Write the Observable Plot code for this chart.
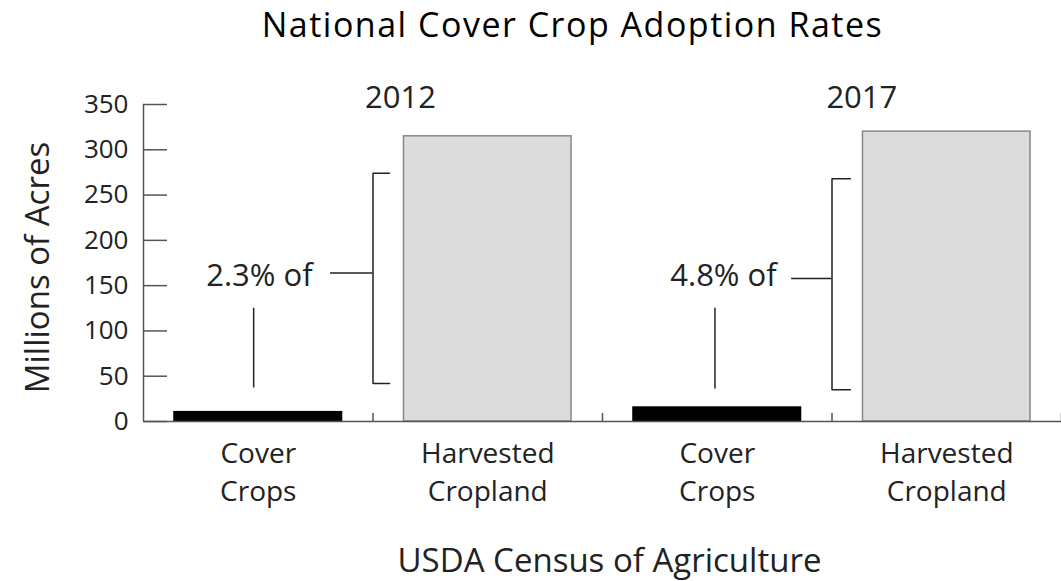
<!DOCTYPE html>
<html>
<head>
<meta charset="utf-8">
<script src="https://cdn.jsdelivr.net/npm/d3@7"></script>
<script src="https://cdn.jsdelivr.net/npm/@observablehq/plot@0.6"></script>
<style>
  html, body { margin: 0; padding: 0; background: #fff; }
  #chart svg { display: block; }
</style>
</head>
<body>
<div id="chart"></div>
<script>
// ---- data ----
const categories = ["Cover\nCrops", "Harvested\nCropland", "Cover\nCrops", "Harvested\nCropland"];
const years = [2012, 2012, 2017, 2017];
const kinds = ["cover", "harvested", "cover", "harvested"];
const acres = [10.3, 314.9, 15.4, 320.0];          // millions of acres
const yTicks = [0, 50, 100, 150, 200, 250, 300, 350];
const yearLabels = ["2012", "2017"];
const shareLabels = ["2.3% of", "4.8% of"];

// ---- derived tables ----
const bars = categories.map((c, i) => ({i, label: c, year: years[i], kind: kinds[i], value: acres[i]}));
const half = 0.365; // half bar width in band units

// annotation anchors (in data units: x = band index, y = millions of acres)
const yearAnno = [{x: 1.12, y: 357, t: yearLabels[0]}, {x: 3.13, y: 357, t: yearLabels[1]}];
const shareAnno = [{x: 0.505, y: 161, t: shareLabels[0]}, {x: 2.527, y: 161, t: shareLabels[1]}];
const pointers = [{x: 0.48, y1: 37, y2: 125}, {x: 2.49, y1: 36, y2: 125}];
const connectors = [{y: 164, x1: 0.815, x2: 1.0}, {y: 158, x1: 2.824, x2: 3.0}];
const brackets = [
  {id: 0, x: 1.072, y: 274}, {id: 0, x: 1.0, y: 274}, {id: 0, x: 1.0, y: 42}, {id: 0, x: 1.072, y: 42},
  {id: 1, x: 3.08, y: 268}, {id: 1, x: 3.0, y: 268}, {id: 1, x: 3.0, y: 35}, {id: 1, x: 3.08, y: 35}
];

const ink = "#222";
const axisInk = "#555";
const font = "'Open Sans', sans-serif";

const chart = Plot.plot({
  width: 1061,
  height: 581,
  marginLeft: 143,
  marginRight: 0,
  marginTop: 104,
  marginBottom: 160,
  style: {fontFamily: font, color: ink, background: "#fff"},
  x: {type: "linear", domain: [0, 4], axis: null},
  y: {domain: [0, 350], axis: null},
  marks: [
    // bars
    Plot.rectY(bars, {
      x1: d => d.i + 0.5 - half, x2: d => d.i + 0.5 + half, y: "value",
      fill: d => d.kind === "cover" ? "#000" : "#dcdcdc",
      stroke: d => d.kind === "cover" ? "#000" : "#888", strokeWidth: 1.5
    }),
    // baseline and y axis line
    Plot.ruleY([0], {stroke: axisInk, strokeWidth: 1.5}),
    Plot.ruleX([0], {y1: 0, y2: 350, stroke: axisInk, strokeWidth: 1.5}),
    // y tick labels and inward tick marks
    Plot.axisY({ticks: yTicks, tickSize: 0, tickPadding: 15, fontSize: 26, fill: ink, label: null}),
    Plot.axisY({ticks: yTicks, tickSize: -24, tickFormat: () => "", stroke: axisInk, strokeWidth: 1.5, label: null}),
    // small inward ticks at band boundaries
    Plot.axisX({ticks: [1, 2, 3, 4], tickSize: -8, tickFormat: () => "", stroke: axisInk, strokeWidth: 1.5, label: null}),
    // category labels
    Plot.text(bars, {x: d => d.i + 0.5, y: 0, text: "label", dy: 14, lineAnchor: "top", lineHeight: 1.36, fontSize: 28, fill: ink}),
    // annotations
    Plot.text(yearAnno, {x: "x", y: "y", text: "t", fontSize: 31, fill: ink}),
    Plot.text(shareAnno, {x: "x", y: "y", text: "t", fontSize: 31, fill: ink}),
    Plot.ruleX(pointers, {x: "x", y1: "y1", y2: "y2", stroke: ink, strokeWidth: 1.5}),
    Plot.ruleY(connectors, {y: "y", x1: "x1", x2: "x2", stroke: ink, strokeWidth: 1.5}),
    Plot.line(brackets, {x: "x", y: "y", z: "id", stroke: ink, strokeWidth: 1.5, curve: "linear"}),
    // y-axis title
    Plot.text(["Millions of Acres"], {frameAnchor: "left", textAnchor: "middle", lineAnchor: "middle", dx: -105.5, dy: 4.5, rotate: -90, fontSize: 33, fill: ink}),
    // title and caption
    Plot.text(["National Cover Crop Adoption Rates"], {frameAnchor: "top", lineAnchor: "middle", dy: -78, dx: -30, fontSize: 34, fill: "#000", className: "title"}),
    Plot.text(["USDA Census of Agriculture"], {frameAnchor: "bottom", lineAnchor: "middle", dy: 139.5, dx: 7, fontSize: 33, fill: ink})
  ]
});
d3.select(chart).selectAll(".title text").attr("letter-spacing", "1.5px");
document.getElementById("chart").appendChild(chart);
</script>
</body>
</html>
